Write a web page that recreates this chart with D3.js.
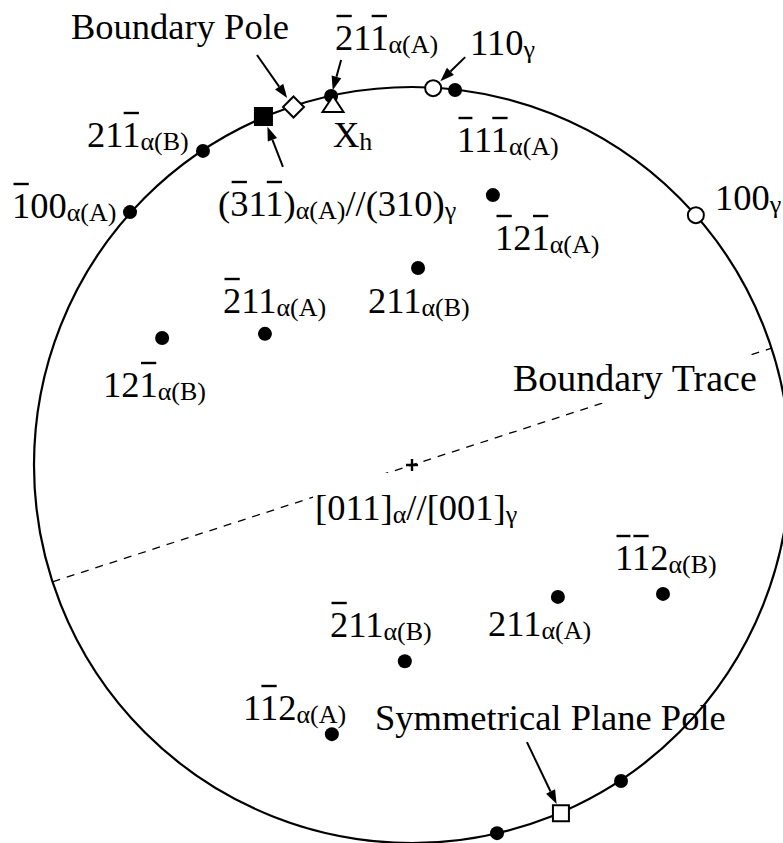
<!DOCTYPE html>
<html>
<head>
<meta charset="utf-8">
<script src="https://cdn.jsdelivr.net/npm/d3@7"></script>
<style>
  body { margin: 0; background: #fff; }
  svg { display: block; }
  text { font-family: "Liberation Serif", "Times New Roman", serif; fill: #000; }
</style>
</head>
<body>
<svg id="chart" width="783" height="843"></svg>
<script>
// label markup: "~" bars the next character, "_" switches to the small
// subscript size, "^" switches back to the full size
var poleLabels = [
  "~100_α(A)", "21~1_α(B)", "(~31~1)_α(A)^//(310)_γ", "Boundary Pole",
  "~21~1_α(A)", "X_h", "110_γ", "~11~1_α(A)", "100_γ", "~12~1_α(A)",
  "211_α(B)", "~211_α(A)", "12~1_α(B)", "~1~12_α(B)", "211_α(A)",
  "~211_α(B)", "1~12_α(A)", "Symmetrical Plane Pole", "", ""
];
// pole positions on the stereographic projection (unit circle, y up)
var poleX = [-0.746, -0.553, -0.393, -0.3135, -0.214, -0.209, 0.056, 0.114, 0.751, 0.214,
             0.016, -0.389, -0.661, 0.664, 0.386, -0.019, -0.212, 0.394, 0.553, 0.225];
var poleY = [0.669, 0.831, 0.922, 0.947, 0.976, 0.955, 0.997, 0.992, 0.661, 0.714,
             0.521, 0.347, 0.336, -0.341, -0.349, -0.519, -0.712, -0.921, -0.836, -0.974];
var poleKinds = ["dot", "dot", "square", "diamond", "dot", "triangle", "open", "dot", "open", "dot",
                 "dot", "dot", "dot", "dot", "dot", "dot", "dot", "openSquare", "dot", "dot"];
var traceAngle = 18;            // degrees, boundary trace through the centre
var traceLabel = "Boundary Trace";
var centreLabel = "[011]_α^//[001]_γ";

// ---- layout ----
var CX = 412, CY = 465, R = 378;
var big = 36.5, small = 26, subDrop = 3, barRise = 34;
var labelPos = [[12, 218], [87, 147], [218, 216], [71, 39], [335, 50], [333, 147], [470, 55],
                [457, 152], [715, 210], [495, 250], [368, 313], [223, 313], [103, 397],
                [615, 570], [488, 636], [330, 637], [243, 720], [375, 730]];
var tracePos = [513, 391], traceSize = 38, centrePos = [315, 520];
// arrows: pole index, tail offset from pole (px), gap between tip and pole
var arrows = [
  {pole: 3, tail: [-36.5, -52], gap: 11},
  {pole: 4, tail: [10, -36], gap: 6},
  {pole: 6, tail: [32, -31], gap: 10},
  {pole: 2, tail: [19.5, 50.5], gap: 11},
  {pole: 17, tail: [-34, -71], gap: 10}
];

var svg = d3.select("#chart");
var x = d3.scaleLinear().domain([-1, 1]).range([CX - R, CX + R]);
var y = d3.scaleLinear().domain([-1, 1]).range([CY + R, CY - R]);

var gCircle = svg.append("g"), gTrace = svg.append("g"), gBox = svg.append("g"),
    gArrow = svg.append("g"), gMark = svg.append("g"), gText = svg.append("g");

gCircle.append("circle")
  .attr("cx", x(0)).attr("cy", y(0)).attr("r", x(1) - x(0))
  .attr("fill", "none").attr("stroke", "#000").attr("stroke-width", 2.2);

var a = traceAngle * Math.PI / 180;
gTrace.append("line")
  .attr("x1", x(-Math.cos(a))).attr("y1", y(-Math.sin(a)))
  .attr("x2", x(Math.cos(a))).attr("y2", y(Math.sin(a)))
  .attr("stroke", "#000").attr("stroke-width", 1.3).attr("stroke-dasharray", "8,7");

// centre cross
gMark.append("path")
  .attr("d", "M" + (x(0) - 6) + "," + y(0) + "h12M" + x(0) + "," + (y(0) - 6) + "v12")
  .attr("stroke", "#000").attr("stroke-width", 2.4);

function markerPath(kind) {
  switch (kind) {
    case "square": return "M-8.5,-8.5h17v17h-17z";
    case "openSquare": return "M-8,-8h16v16h-16z";
    case "diamond": return "M0,-10.5L10.5,0L0,10.5L-10.5,0z";
    case "triangle": return "M0,-8L10.5,8H-10.5z";
    case "open": return d3.arc()({innerRadius: 0, outerRadius: 8, startAngle: 0, endAngle: 2 * Math.PI});
    default: return d3.arc()({innerRadius: 0, outerRadius: 7, startAngle: 0, endAngle: 2 * Math.PI});
  }
}

// the triangle goes on top of its dot
var order = d3.range(poleX.length).sort(function (i, j) {
  return (poleKinds[i] === "triangle") - (poleKinds[j] === "triangle");
});
gMark.selectAll("path.pole")
  .data(order)
  .enter().append("path")
  .attr("class", "pole")
  .attr("transform", function (i) { return "translate(" + x(poleX[i]) + "," + y(poleY[i]) + ")"; })
  .attr("d", function (i) { return markerPath(poleKinds[i]); })
  .attr("fill", function (i) {
    var k = poleKinds[i];
    return (k === "dot" || k === "square") ? "#000" : "#fff";
  })
  .attr("stroke", "#000")
  .attr("stroke-width", function (i) { return poleKinds[i] === "dot" ? 0 : 2; });

arrows.forEach(function (ar) {
  var px = x(poleX[ar.pole]), py = y(poleY[ar.pole]);
  var tx = px + ar.tail[0], ty = py + ar.tail[1];
  var len = Math.hypot(ar.tail[0], ar.tail[1]);
  var ux = ar.tail[0] / len, uy = ar.tail[1] / len;
  var hx = px + ux * ar.gap, hy = py + uy * ar.gap;
  var hl = 14, hw = 5;
  var bx = hx + ux * hl, by = hy + uy * hl;
  gArrow.append("line")
    .attr("x1", tx).attr("y1", ty).attr("x2", bx).attr("y2", by)
    .attr("stroke", "#000").attr("stroke-width", 2);
  gArrow.append("path")
    .attr("d", "M" + hx + "," + hy + "L" + (bx - uy * hw) + "," + (by + ux * hw) +
               "L" + (bx + uy * hw) + "," + (by - ux * hw) + "Z")
    .attr("fill", "#000");
});

function drawLabel(markup, pos, size0) {
  var full = size0 || big;
  var t = gText.append("text").attr("x", pos[0]).attr("y", pos[1]);
  var runs = [], cur = null, size = full, bar = false, bars = [], n = 0;
  for (var i = 0; i < markup.length; i++) {
    var c = markup[i];
    if (c === "~") { bar = true; continue; }
    if (c === "_") { size = small; continue; }
    if (c === "^") { size = full; continue; }
    if (!cur || cur.size !== size) { cur = {size: size, text: ""}; runs.push(cur); }
    cur.text += c;
    if (bar) bars.push(n);
    bar = false;
    n++;
  }
  var prev = 0;
  runs.forEach(function (r) {
    var shift = r.size === small ? subDrop : 0;
    t.append("tspan").attr("font-size", r.size).attr("dy", shift - prev).text(r.text);
    prev = shift;
  });
  var node = t.node();
  bars.forEach(function (i) {
    var s = node.getStartPositionOfChar(i), e = node.getEndPositionOfChar(i);
    gText.append("line")
      .attr("x1", s.x + 1.5).attr("x2", e.x - 1.5)
      .attr("y1", pos[1] - barRise).attr("y2", pos[1] - barRise)
      .attr("stroke", "#000").attr("stroke-width", 2.4);
  });
  return t;
}

labelPos.forEach(function (p, i) { drawLabel(poleLabels[i], p); });

// labels that sit on the trace get a white box behind them
function boxed(markup, pos, pad, size0) {
  var t = drawLabel(markup, pos, size0);
  var b = t.node().getBBox();
  gBox.append("rect")
    .attr("x", b.x - pad[3]).attr("y", b.y - pad[0])
    .attr("width", b.width + pad[1] + pad[3]).attr("height", b.height + pad[0] + pad[2])
    .attr("fill", "#fff");
}
boxed(traceLabel, tracePos, [2, 0, 4, 0], traceSize);
boxed(centreLabel, centrePos, [14, 2, 2, 2]);
</script>
</body>
</html>
